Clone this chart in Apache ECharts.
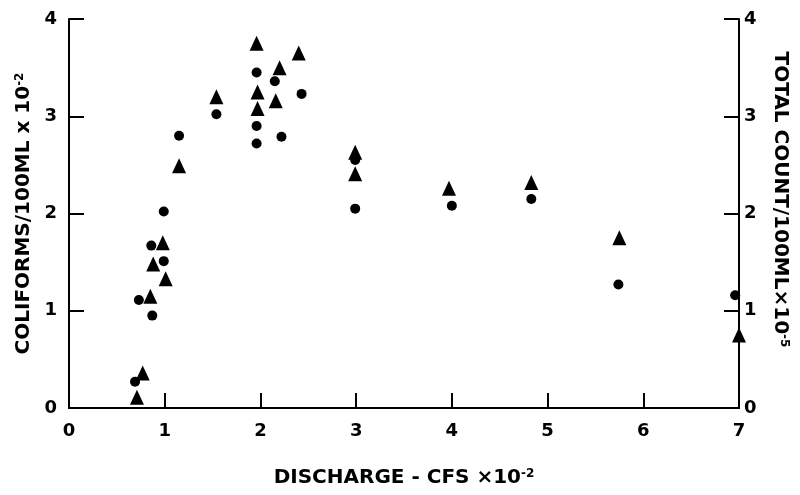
<!DOCTYPE html>
<html>
<head>
<meta charset="utf-8">
<script src="https://cdn.jsdelivr.net/npm/echarts@6/dist/echarts.min.js"></script>
<style>
html,body{margin:0;padding:0;background:#fff;}
#c{width:800px;height:495px;}
</style>
</head>
<body>
<div id="c"></div>
<script>
// Discharge (x 10^-2 CFS) and coliform values (circles, left axis)
var coliformX = [0.69, 0.73, 0.87, 0.86, 0.99, 0.99, 1.15, 1.54, 1.96, 1.96, 1.96, 2.15, 2.22, 2.43, 2.99, 2.99, 4.00, 4.83, 5.74, 6.96];
var coliformY = [0.27, 1.11, 0.95, 1.67, 1.51, 2.02, 2.80, 3.02, 3.45, 2.90, 2.72, 3.36, 2.79, 3.23, 2.55, 2.05, 2.08, 2.15, 1.27, 1.16];
// Total count values (triangles, right axis)
var totalX = [0.71, 0.77, 0.85, 0.88, 0.98, 1.01, 1.15, 1.54, 1.96, 1.97, 1.97, 2.16, 2.20, 2.40, 2.99, 2.99, 3.97, 4.83, 5.75, 7.00];
var totalY = [0.11, 0.36, 1.15, 1.48, 1.70, 1.33, 2.49, 3.20, 3.75, 3.25, 3.08, 3.16, 3.50, 3.65, 2.63, 2.41, 2.26, 2.32, 1.75, 0.75];
var xTicks = [0, 1, 2, 3, 4, 5, 6, 7];
var yTicks = [0, 1, 2, 3, 4];

function pairs(xs, ys){ return xs.map(function(x,i){ return [x, ys[i]]; }); }

var FONT = 'DejaVu Sans';
var INK = '#000';
var chart = echarts.init(document.getElementById('c'), null, {renderer:'canvas'});
var supStyle = {fontSize:12, fontFamily:FONT, fontWeight:'bold', color:INK, verticalAlign:'top', padding:[0,0,8,0]};
var axisCommon = {
  min: 0, interval: 1,
  axisLine: {show:true, lineStyle:{color:INK, width:2}},
  axisTick: {show:true, inside:true, length:15, lineStyle:{color:INK, width:2}},
  splitLine: {show:false},
  axisLabel: {color:INK, fontFamily:FONT, fontSize:18, fontWeight:'bold'},
  nameLocation:'middle',
  nameTextStyle: {color:INK, fontFamily:FONT, fontSize:20, fontWeight:'bold', rich:{sup:supStyle}}
};
chart.setOption({
  animation:false,
  backgroundColor:'#fff',
  grid:{left:69, right:61, top:19, bottom:87, containLabel:false},
  xAxis: Object.assign({}, axisCommon, {
    type:'value', max: xTicks[xTicks.length-1],
    name:'DISCHARGE - CFS ×10{sup|-2}', nameGap:60,
    axisLabel: Object.assign({}, axisCommon.axisLabel, {margin:14})
  }),
  yAxis: [
    Object.assign({}, axisCommon, {
      type:'value', position:'left', max: yTicks[yTicks.length-1],
      name:'COLIFORMS/100ML x 10{sup|-2}', nameGap:35, nameRotate:90,
      axisLabel: Object.assign({}, axisCommon.axisLabel, {margin:12})
    }),
    Object.assign({}, axisCommon, {
      type:'value', position:'right', max: yTicks[yTicks.length-1],
      name:'TOTAL COUNT/100ML×10{sup|-5}', nameGap:31, nameRotate:-90,
      nameTextStyle: Object.assign({}, axisCommon.nameTextStyle, {padding:[0,28,0,0]}),
      axisLabel: Object.assign({}, axisCommon.axisLabel, {margin:5})
    })
  ],
  series: [
    {type:'scatter', yAxisIndex:0, data:pairs(coliformX, coliformY), symbol:'circle', symbolSize:10, itemStyle:{color:INK, opacity:1}, z:3},
    {type:'scatter', yAxisIndex:1, data:pairs(totalX, totalY), symbol:'triangle', symbolSize:[14,15], itemStyle:{color:INK, opacity:1}, z:4}
  ]
});
</script>
</body>
</html>
